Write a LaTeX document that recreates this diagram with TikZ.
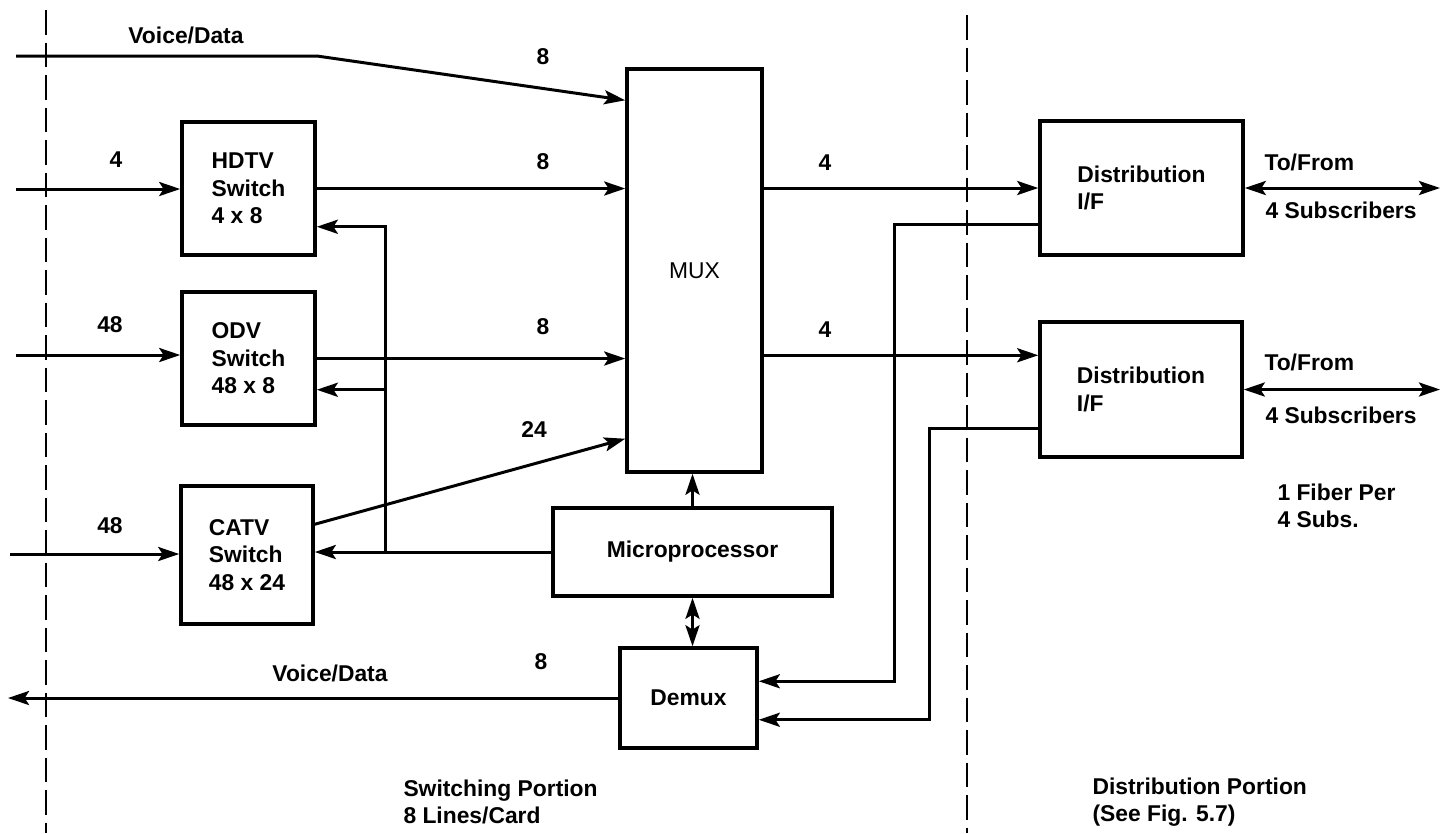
\documentclass[tikz,border=0pt]{standalone}
\usepackage{fontspec}
\setmainfont{Liberation Sans}
\usetikzlibrary{arrows.meta,calc,positioning}

\begin{document}
\begin{tikzpicture}[x=0.02cm,y=-0.02cm,
    >={Stealth[length=12pt,width=8pt,inset=2.5pt]},line width=1.7pt,
    every node/.style={font=\fontsize{13}{15.6}\selectfont\bfseries},
    blk/.style={draw,line width=2pt,align=left,inner sep=0pt},
    sep/.style={line width=1.3pt,dash pattern=on 14pt off 4.5pt},
    lbl/.style={inner sep=0pt,align=left}]
  \useasboundingbox (0,0) rectangle (1442,833);

  \draw[sep] (46,10) -- (46,833);
  \draw[sep] (967,15) -- (967,833);

  \node[blk,minimum width=2.66cm,minimum height=2.66cm] (hdtv) at (248.5,188.5) {HDTV\\Switch\\4 x 8};
  \node[blk,minimum width=2.66cm,minimum height=2.66cm] (odv) at (248.5,358.5) {ODV\\Switch\\48 x 8};
  \node[blk,minimum width=2.64cm,minimum height=2.76cm] (catv) at (247,555) {CATV\\Switch\\48 x 24};
  \node[blk,minimum width=2.7cm,minimum height=8.06cm,font=\fontsize{13}{15.6}\selectfont] (mux) at (694.5,270.5) {MUX};
  \node[blk,minimum width=5.58cm,minimum height=1.76cm] (micro) at (692.5,552) {Microprocessor};
  \node[blk,minimum width=2.74cm,minimum height=2cm] (demux) at (688.5,698) {Demux};
  \node[blk,minimum width=4.06cm,minimum height=2.68cm] (dist1) at (1141.5,188) {Distribution\\I/F};
  \node[blk,minimum width=4.04cm,minimum height=2.7cm] (dist2) at (1141,389.5) {Distribution\\I/F};

  \coordinate (vdin) at (16,56);
  \coordinate (vdbend) at (317,56);
  \coordinate (hdin) at (16,189);
  \coordinate (odin) at (16,355);
  \coordinate (cain) at (10,554);
  \coordinate (vdout) at (8,0);
  \coordinate (fbx) at (385,0);
  \coordinate (c1) at (894,0);
  \coordinate (c2) at (929,0);
  \coordinate (subs) at (1440,0);

  \draw[->] (vdin) -- (vdbend) -- ($(mux.north west)+(0,33)$);
  \draw[->] (hdin) -- (hdin -| hdtv.west);
  \draw[->] (odin) -- (odin -| odv.west);
  \draw[->] (cain) -- (cain -| catv.west);
  \draw[->] (hdtv.east) -- (hdtv.east -| mux.west);
  \draw[->] (odv.east) -- (odv.east -| mux.west);
  \draw[->] ($(catv.north east)+(0,40)$) -- ($(mux.south west)+(0,-35)$);

  \coordinate (hdfb) at ($(hdtv.south east)+(0,-30)$);
  \coordinate (odfb) at ($(odv.south east)+(0,-37)$);
  \draw[->] (micro.west) -- (micro.west -| catv.east);
  \draw[->] (micro.west -| fbx) |- (hdfb);
  \draw[->] (odfb -| fbx) -- (odfb);

  \draw[->] (micro.north) -- (micro.north |- mux.south);
  \draw[<->] (micro.south) -- (micro.south |- demux.north);
  \draw[->] (demux.west) -- (demux.west -| vdout);

  \coordinate (d2in) at ($(dist2.north west)+(0,35)$);
  \draw[->] (dist1.west -| mux.east) -- (dist1.west);
  \draw[->] (d2in -| mux.east) -- (d2in);

  \coordinate (r1) at ($(dist1.south west)+(0,-32)$);
  \coordinate (r2) at ($(dist2.south west)+(0,-30)$);
  \coordinate (d1a) at ($(demux.north east)+(0,35)$);
  \coordinate (d2a) at ($(demux.south east)+(0,-30)$);
  \draw[->] (r1) -| (c1 |- d1a) -- (d1a);
  \draw[->] (r2) -| (c2 |- d2a) -- (d2a);

  \draw[<->] (dist1.east) -- (dist1.east -| subs);
  \draw[<->] (dist2.east) -- (dist2.east -| subs);

  \node[lbl] (vdtop) at (186,35) {Voice/Data};
  \node[lbl] (n8a) at (543,57) {8};
  \node[lbl] (n8b) at (543,162) {8};
  \node[lbl] (n8c) at (543,327) {8};
  \node[lbl] (n24) at (534,430) {24};
  \node[lbl] (n4in) at (116,160) {4};
  \node[lbl] (n48a) at (110,325) {48};
  \node[lbl] (n48b) at (110,526) {48};
  \node[lbl] (n4a) at (825,163) {4};
  \node[lbl] (n4b) at (825,330) {4};
  \node[lbl] (n8d) at (541,662) {8};
  \node[lbl] (vdbot) at (330,673) {Voice/Data};
  \node[lbl,anchor=west] (tf1) at (1263,162) {To/From};
  \node[lbl,anchor=west] (sb1) at (1264,210) {4 Subscribers};
  \node[lbl,anchor=west] (tf2) at (1263,362) {To/From};
  \node[lbl,anchor=west] (sb2) at (1264,415) {4 Subscribers};
  \node[lbl,anchor=west] (fiber) at (1276,506) {1 Fiber Per\\4 Subs.};
  \node[lbl,anchor=west] (swp) at (402,802) {Switching Portion\\8 Lines/Card};
  \node[lbl,anchor=west] (dsp) at (1091,802) {Distribution Portion\\(See Fig. 5.7)};
\end{tikzpicture}
\end{document}
